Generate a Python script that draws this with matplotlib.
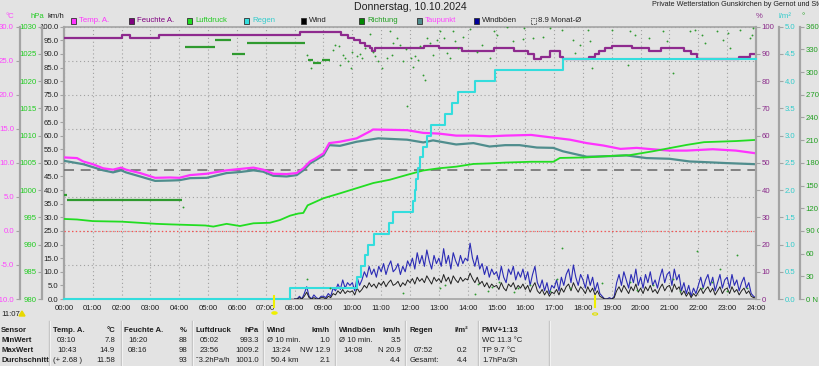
import numpy as np
import matplotlib
matplotlib.use("Agg")
import matplotlib.pyplot as plt
from matplotlib.ticker import MultipleLocator, FuncFormatter
from matplotlib.patches import Rectangle, Polygon, Circle
from matplotlib.lines import Line2D
import matplotlib.transforms as mtransforms

plt.rcParams['font.family'] = ['Liberation Sans', 'DejaVu Sans']

# --- data (hours since midnight) ---
t_temp = [0, 0.45, 0.67, 1.0, 1.36, 1.7, 1.98, 2.15, 2.64, 3.16, 3.68, 4.0, 4.37, 4.95,
          5.64, 6.1, 6.57, 6.91, 7.26, 7.72, 8.07, 8.3, 8.53, 8.7, 9.0, 9.2, 9.57, 10.15,
          10.6, 10.72, 11.9, 12.46, 13.0, 13.6, 14.2, 14.76, 15.3, 16.2, 16.97, 17.55,
          18.13, 18.7, 19.3, 19.86, 20.4, 21.0, 21.6, 22.5, 23.3, 24.0]
temp = [10.8, 10.7, 10.2, 9.8, 9.2, 9.0, 9.3, 9.0, 8.5, 7.8, 7.85, 7.8, 8.2, 8.4,
        8.9, 9.1, 9.3, 9.0, 8.4, 8.35, 8.5, 9.2, 10.2, 10.6, 11.4, 12.9, 13.1, 13.6,
        14.6, 14.9, 14.8, 14.4, 14.3, 14.0, 14.0, 13.9, 14.0, 14.1, 13.7, 13.4,
        12.9, 12.55, 12.05, 12.2, 12.0, 11.8, 11.8, 12.0, 11.8, 11.4]

t_dew = [0, 0.67, 1.36, 1.7, 1.98, 2.15, 2.64, 3.16, 3.68, 4.0, 4.37, 4.95, 5.64, 6.1,
         6.57, 6.91, 7.26, 7.72, 8.07, 8.3, 8.53, 9.0, 9.2, 9.57, 10.15, 10.9, 11.9,
         12.46, 12.8, 13.6, 14.2, 14.76, 15.3, 15.8, 16.4, 16.97, 17.3, 18.13, 19.05,
         19.5, 20.2, 21.0, 21.7, 22.0, 23.0, 24.0]
dew = [10.3, 9.8, 8.9, 8.6, 8.9, 8.6, 8.0, 7.35, 7.4, 7.45, 7.75, 7.8, 8.5, 8.65,
       8.9, 8.7, 8.1, 8.0, 8.2, 8.9, 9.9, 11.1, 12.6, 12.5, 13.1, 13.6, 13.4,
       13.0, 13.3, 12.7, 12.9, 12.4, 12.6, 12.6, 12.25, 12.2, 11.7, 10.9, 11.0,
       11.1, 10.7, 10.6, 10.2, 10.15, 9.96, 9.8]

t_press = [0, 0.45, 1.0, 2.0, 2.6, 3.2, 3.7, 4.3, 4.9, 5.18, 5.64, 6.1, 6.57, 7.14, 7.49,
           7.84, 8.13, 8.3, 8.45, 9.0, 9.57, 10.15, 10.73, 11.3, 11.9, 12.46, 13.0, 13.6,
           14.2, 14.76, 15.3, 16.2, 16.97, 17.2, 18.13, 19.05, 19.6, 20.4, 21.0, 21.6,
           22.2, 22.76, 23.3, 23.95, 24.0]
press = [994.7, 994.6, 994.3, 994.2, 994.0, 993.8, 993.7, 993.6, 993.5, 993.3, 993.8,
         993.4, 993.9, 994.0, 994.5, 995.3, 995.7, 995.8, 997.2, 998.5, 999.4, 1000.35,
         1001.3, 1001.9, 1002.8, 1003.6, 1004.0, 1004.3, 1004.8, 1004.9, 1005.05, 1005.2,
         1005.2, 1005.9, 1006.0, 1006.3, 1006.4, 1007.1, 1007.7, 1008.3, 1008.8, 1008.9,
         1009.0, 1009.2, 1009.2]

t_hum = [0, 2.0, 2.3, 3.3, 8.2, 9.6, 9.85, 10.05, 10.25, 10.45, 10.6, 10.68, 10.8, 12.5,
         13.0, 13.8, 14.9, 15.6, 16.1, 16.3, 16.55, 16.85, 17.2, 17.3, 18.2, 18.4, 18.55,
         18.75, 19.0, 19.2, 19.7, 20.3, 20.7, 21.5, 21.75, 21.95, 23.4, 23.8, 24.0]
hum = [96, 97, 96, 97, 98, 97, 96, 95, 94, 93, 92, 91, 92, 93,
       92, 91, 92, 91, 90, 88, 89, 91, 89, 88, 89, 90, 91,
       92, 93, 93, 92, 91, 92, 91, 90, 88, 89, 90, 90]

t_rain = [0, 7.85, 10.15, 10.3, 10.45, 10.55, 10.75, 11.28, 11.4, 12.1, 12.16, 12.22,
          12.28, 12.34, 12.44, 12.58, 12.72, 13.2, 13.45, 13.68, 14.26, 14.95, 17.3, 24.0]
rain = [0, 0.2, 0.4, 0.6, 0.8, 1.0, 1.2, 1.4, 1.6, 1.8, 2.0, 2.2,
        2.4, 2.6, 2.8, 3.0, 3.2, 3.4, 3.6, 3.8, 4.0, 4.2, 4.4, 4.4]

# wind and gusts, 5 min values from 08:00 (one row per hour)
wind_start = 8.0
gust = [0, 0, 1, 0, 2, 4.5, 1, 0, 1.5, 0.5, 0, 1,
        1, 0.5, 2, 1, 4, 3, 5.5, 3.5, 7, 4, 6, 5,
        6, 3, 8, 5, 7, 10, 8, 12, 9, 11, 8, 12,
        10, 13, 9, 12, 14, 10, 11, 13, 9, 12, 10, 14,
        12, 15, 11, 17, 13, 16, 12, 18, 14, 11, 16, 13,
        15, 12, 18.5, 13, 16, 11, 17, 14, 12, 16, 13, 15,
        14, 20.5, 15, 12, 16, 11, 13, 9, 12, 8, 11, 9,
        10, 7, 12, 8, 6, 11, 9, 12, 7, 10, 8, 11,
        7, 10, 5, 9, 12, 6, 4, 7, 3, 6, 2, 5,
        4, 7, 3, 8, 5, 9, 11, 6, 12.5, 8, 5, 9,
        7, 4, 9, 5, 8, 3, 6, 2, 1, 0, 0, 0.5,
        0, 1, 6, 9, 5, 10, 7, 4, 9, 6, 11, 5,
        8, 4, 9, 6, 10, 5, 7, 4, 8, 11, 6, 9,
        10, 5, 11, 7, 9, 3, 6, 2, 5, 1, 4, 2,
        5, 8, 4, 7, 9, 5, 8, 3, 6, 9, 4, 7,
        8, 4, 9, 5, 7, 3, 6, 8, 4, 6, 2, 1,
        0.5]
wind = [0, 0, 0.5, 0, 1, 2.5, 0.5, 0, 0.5, 0, 0, 0.5,
        0.5, 0, 1, 0.5, 2, 1.5, 3, 2, 3.5, 2, 3, 2.5,
        3, 1.5, 4, 2.5, 3.5, 5, 4, 6, 4.5, 5.5, 4, 6,
        5, 6.5, 4.5, 6, 7, 5, 5.5, 6.5, 4.5, 6, 5, 7,
        6, 7.5, 5.5, 8, 6.5, 7.5, 6, 8.5, 7, 5.5, 8, 6.5,
        7.5, 6, 9, 6.5, 8, 5.5, 8.5, 7, 6, 8, 6.5, 7.5,
        7, 9.5, 7.5, 6, 8, 5.5, 6.5, 4.5, 6, 4, 5.5, 4.5,
        5, 3.5, 6, 4, 3, 5.5, 4.5, 6, 3.5, 5, 4, 5.5,
        3.5, 5, 2.5, 4.5, 6, 3, 2, 3.5, 1.5, 3, 1, 2.5,
        2, 3.5, 1.5, 4, 2.5, 4.5, 5.5, 3, 6, 4, 2.5, 4.5,
        3.5, 2, 4.5, 2.5, 4, 1.5, 3, 1, 0.5, 0, 0, 0,
        0, 0.5, 3, 4.5, 2.5, 5, 3.5, 2, 4.5, 3, 5.5, 2.5,
        4, 2, 4.5, 3, 5, 2.5, 3.5, 2, 4, 5.5, 3, 4.5,
        5, 2.5, 5.5, 3.5, 4.5, 1.5, 3, 1, 2.5, 0.5, 2, 1,
        2.5, 4, 2, 3.5, 4.5, 2.5, 4, 1.5, 3, 4.5, 2, 3.5,
        4, 2, 4.5, 2.5, 3.5, 1.5, 3, 4, 2, 3, 1, 0.5,
        0.5]

# wind direction: steady runs and single readings (degrees)
dir_seg_start = [0.0, 0.12, 4.2, 5.24, 5.82, 6.33, 8.47, 8.65, 8.95]
dir_seg_end = [0.1, 4.1, 5.22, 5.8, 6.28, 8.36, 8.62, 8.92, 9.23]
dir_seg_val = [138, 131, 333, 342, 324, 339, 316, 312, 316]
dir_dot_t = [4.13, 8.44, 8.56, 9.34, 9.4, 9.55, 9.57, 9.69, 9.75, 9.86, 9.95, 10.0, 10.15,
             10.27, 10.33, 10.44, 10.6, 10.73, 10.8, 10.9, 11.02, 11.19, 11.31, 11.36,
             11.42, 11.54, 11.65, 11.77, 11.86, 11.89, 12.02, 12.1, 12.17, 12.29, 12.35,
             12.46, 12.52, 12.6, 12.69, 12.81, 12.93, 13.04, 13.18, 13.27, 13.39, 13.5,
             13.56, 13.68, 13.85, 14.08, 14.31, 14.49, 14.78, 14.91, 15.03, 15.35, 15.56,
             15.93, 15.95, 16.28, 16.63, 16.86, 17.26, 17.67, 17.72, 17.9, 18.19, 18.24,
             18.3, 19.0, 19.57, 19.63, 19.8, 20.3, 20.79, 20.9, 21.13, 21.71, 21.89, 22.12,
             22.23, 22.64, 22.87, 23.04, 23.1, 23.45, 23.8, 23.85, 23.91,
             8.42, 9.23, 11.76, 13.04, 13.2, 14.25, 14.35, 14.72, 14.85, 15.1, 15.6, 15.75,
             16.16, 16.86, 17.09, 17.26, 17.55, 18.65, 19.63, 19.86, 20.44, 21.13, 21.37,
             21.94, 22.12, 22.46, 22.75, 22.98, 23.33, 23.68]
dir_dot_val = [122, 322, 305, 329, 336, 335, 310, 322, 318, 314, 305, 327, 321,
               324, 318, 332, 351, 327, 321, 314, 305, 318, 354, 323,
               338, 345, 336, 314, 330, 255, 318, 307, 321, 316, 334,
               296, 290, 345, 338, 323, 343, 354, 345, 325, 318, 354,
               341, 332, 347, 357, 327, 336, 318, 354, 349, 360, 341,
               344, 358, 345, 347, 358, 356, 343, 325, 336, 356, 341,
               305, 356, 310, 354, 349, 345, 354, 341, 299, 354, 356, 349,
               338, 354, 343, 352, 332, 356, 345, 349, 358,
               26, 14, 8, 14, 18, 7, 20, 10, 16, 22, 9, 15,
               18, 10, 27, 67, 14, 21, 23, 12, 18, 27, 10,
               63, 14, 23, 40, 10, 58, 14]

month_avg = 8.9
sunrise, sunset = 7.30, 18.42

# --- figure ---
W, H = 820, 366
BG = '#e3e3e3'
fig = plt.figure(figsize=(W / 100, H / 100), dpi=100, facecolor=BG)


def fx(x):
    return x / W


def fy(y):
    return 1 - y / H


L, R, T, B = 64, 756, 26.7, 299
ax = fig.add_axes([fx(L), fy(B), (R - L) / W, (B - T) / H], facecolor=BG)

SP = '#a4a4a4'
FS = 5.6
GRID = dict(color='#a0a0a0', lw=0.8, ls=(0, (1, 2.5)))


def style_axis(a, side, pos, color, lo, hi, step, fmt):
    a.set_ylim(lo, hi)
    if side == 'left':
        a.yaxis.tick_left()
    else:
        a.yaxis.tick_right()
    if pos is not None:
        a.spines[side].set_position(('axes', pos))
    for s in ('top', 'bottom', 'left', 'right'):
        a.spines[s].set_visible(False)
    # axis line drawn by hand in plain grey
    xa = pos if pos is not None else (0 if side == 'left' else 1)
    a.add_artist(Line2D([xa, xa], [0, 1], transform=a.transAxes, color=SP, lw=1.6,
                        clip_on=False, zorder=5))
    a.yaxis.set_major_locator(MultipleLocator(step))
    a.yaxis.set_major_formatter(FuncFormatter(fmt))
    a.tick_params(axis='y', length=3, width=0.8, color=SP, labelsize=FS,
                  labelcolor=color, pad=1)


# km/h base axis
ax.set_xlim(0, 24)
style_axis(ax, 'left', None, '#202020', 0, 100, 5, lambda v, p: '%.1f' % v)
for s in ('top', 'bottom', 'right'):
    ax.spines[s].set_visible(True)
    ax.spines[s].set_edgecolor(SP)
    ax.spines[s].set_linewidth(1.2)
ax.set_xticks(range(25))
ax.set_xticklabels(['%02d:00' % h for h in range(25)])
ax.tick_params(axis='x', length=0, labelsize=FS, labelcolor='#202020', pad=4)
ax.yaxis.set_minor_locator(MultipleLocator(12.5))
ax.yaxis.remove_overlapping_locs = False
ax.tick_params(axis='y', which='minor', length=0)
ax.grid(axis='y', which='minor', **GRID)
ax.grid(axis='x', which='major', **GRID)

t_wind = wind_start + np.arange(len(gust)) / 12.0
ax.plot(t_wind, gust, color='#2b2bb5', lw=0.8, zorder=3)
ax.plot(t_wind, wind, color='#202020', lw=0.7, zorder=4)

# temperature axis (left, outer)
axT = ax.twinx()
style_axis(axT, 'left', -44.5 / 692, '#ff44ff', -10, 30, 5, lambda v, p: '%.1f' % v)
axT.axhline(0, color='#ff5050', lw=0.9, ls=(0, (1, 2)))
axT.axhline(month_avg, color='#707070', lw=1.2, ls=(0, (6, 4)))
axT.plot(t_dew, dew, color='#4f8d8d', lw=1.6)
axT.plot(t_temp, temp, color='#ff33ff', lw=1.6)

# pressure axis (left, middle)
axP = ax.twinx()
style_axis(axP, 'left', -22 / 692, '#22cc22', 980, 1030, 5, lambda v, p: '%d' % v)
axP.plot(t_press, press, color='#22dd22', lw=1.3)

# humidity axis (right)
axH = ax.twinx()
style_axis(axH, 'right', None, '#8a2a8a', 0, 100, 10, lambda v, p: '%d' % v)
axH.plot(t_hum, hum, color='#8e2a8e', lw=1.6, drawstyle='steps-post')

# rain axis (right, middle)
axR = ax.twinx()
style_axis(axR, 'right', 1 + 23 / 692, '#33cccc', 0, 5, 0.5, lambda v, p: '%.1f' % v)
axR.plot(t_rain, rain, color='#33dddd', lw=1.5, drawstyle='steps-post', clip_on=False)

# direction axis (right, outer)
dir_names = {360: ' N', 270: ' W', 180: ' S', 90: ' O', 0: ' N'}
axD = ax.twinx()
style_axis(axD, 'right', 1 + 44 / 692, '#22a022', 0, 360, 30,
           lambda v, p: '%d%s' % (v, dir_names.get(int(round(v)), '')))
axD.hlines(dir_seg_val, dir_seg_start, dir_seg_end, color='#2f9a2f', lw=1.6)
axD.scatter(dir_dot_t, dir_dot_val, s=1.8, color='#2f9a2f', lw=0, clip_on=True)

# sunrise / sunset marks below the axis
trans = mtransforms.blended_transform_factory(ax.transData, fig.transFigure)
for t_s in (sunrise, sunset):
    fig.add_artist(Line2D([t_s, t_s], [fy(296), fy(307)], transform=trans,
                          color='#f0f000', lw=1.5))
fig.add_artist(Circle((fx(L + sunrise * 692 / 24), fy(313)), 2.5 / W, color='#f0f000',
                      transform=fig.transFigure))
fig.add_artist(Circle((fx(L + sunset * 692 / 24), fy(314)), 2.5 / W, fill=False,
                      ec='#e0e000', lw=0.8, transform=fig.transFigure))
fig.text(fx(1), fy(314), '11:07', fontsize=FS, color='#202020', va='center')
fig.add_artist(Polygon([[fx(19), fy(316)], [fx(25), fy(316)], [fx(22), fy(311)]],
                       closed=True, color='#e8d800', transform=fig.transFigure))

# titles
fig.text(fx(410), fy(6.5), 'Donnerstag, 10.10.2024', fontsize=7.6, ha='center',
         va='center', color='#202020')
fig.text(fx(652), fy(5), 'Private Wetterstation Gunskirchen by Gernot und Stephan',
         fontsize=5.2, va='center', color='#202020')

# unit labels
for x, txt, c in [(10, '°C', '#ff44ff'), (37, 'hPa', '#22cc22'), (56, 'km/h', '#202020'),
                  (759, '%', '#8a2a8a'), (785, 'l/m²', '#33cccc'), (803, '°', '#22a022')]:
    fig.text(fx(x), fy(17), txt, fontsize=FS, ha='center', va='center', color=c)

# legend
legend_items = [
    (71, 'Temp. A.', '#ff33ff', '#ff33ff'),
    (129, 'Feuchte A.', '#800080', '#800080'),
    (187, 'Luftdruck', '#22dd22', '#22cc22'),
    (244, 'Regen', '#33dddd', '#33cccc'),
    (301, 'Wind', '#000000', '#202020'),
    (359, 'Richtung', '#008800', '#22a022'),
    (417, 'Taupunkt', '#4f8d8d', '#ff44ff'),
    (474, 'Windböen', '#000099', '#202020'),
]
for x, txt, box, tc in legend_items:
    fig.add_artist(Rectangle((fx(x), fy(23.5)), 5.5 / W, 5.5 / H, facecolor=box,
                             edgecolor='#303030', lw=0.6, transform=fig.transFigure))
    fig.text(fx(x + 8), fy(20.8), txt, fontsize=FS, va='center', color=tc)
fig.add_artist(Rectangle((fx(531), fy(23.5)), 5.5 / W, 5.5 / H, facecolor='none',
                         edgecolor='#505050', lw=0.6, ls=(0, (2, 1)),
                         transform=fig.transFigure))
fig.text(fx(538), fy(20.8), '8.9 Monat-Ø', fontsize=FS, va='center', color='#202020')

# summary table
row_y = [330.7, 340.3, 350, 360]
sep_x = [49, 121, 192, 263, 335, 405, 478, 549]
for x in sep_x:
    fig.add_artist(Line2D([fx(x), fx(x)], [fy(321), fy(366)], color='#c4c4c4', lw=1.0))
    fig.add_artist(Line2D([fx(x + 1), fx(x + 1)], [fy(321), fy(366)], color='#f2f2f2',
                          lw=0.8))

row_names = ['Sensor', 'MinWert', 'MaxWert', 'Durchschnitt']
for y, txt in zip(row_y, row_names):
    fig.text(fx(1), fy(y), txt, fontsize=FS, fontweight='bold', va='center',
             color='#202020')

table_cols = [
    (53, 115, 'Temp. A.', '°C', [('03:10', '7.8'), ('10:43', '14.9'), ('(+ 2.68 )', '11.58')]),
    (124, 187, 'Feuchte A.', '%', [('16:20', '88'), ('08:16', '98'), ('', '93')]),
    (196, 259, 'Luftdruck', 'hPa', [('05:02', '993.3'), ('23:56', '1009.2'),
                                    ('ˆ3.2hPa/h', '1001.0')]),
    (267, 330, 'Wind', 'km/h', [('Ø 10 min.', '1.0'), ('13:24', 'NW 12.9'),
                               ('50.4 km', '2.1')]),
    (339, 401, 'Windböen', 'km/h', [('Ø 10 min.', '3.5'), ('14:08', 'N 20.9'), ('', '4.4')]),
    (410, 468, 'Regen', 'l/m²', [('', ''), ('07:52', '0.2'), ('Gesamt:', '4.4')]),
]
for xl, xr, head, unit, rows in table_cols:
    fig.text(fx(xl), fy(row_y[0]), head, fontsize=FS, fontweight='bold', va='center',
             color='#202020')
    fig.text(fx(xr), fy(row_y[0]), unit, fontsize=FS, fontweight='bold', va='center',
             ha='right', color='#202020')
    for y, (left, right) in zip(row_y[1:], rows):
        indent = 0 if left.startswith(('Ø', '(', 'ˆ', 'G')) else 4
        fig.text(fx(xl + indent), fy(y), left, fontsize=FS, va='center', color='#202020')
        fig.text(fx(xr), fy(y), right, fontsize=FS, va='center', ha='right',
                 color='#202020')

pmv = ['PMV+1:13', 'WC 11.3 °C', 'TP 9.7 °C', '1.7hPa/3h']
for i, (y, txt) in enumerate(zip(row_y, pmv)):
    fig.text(fx(482), fy(y), txt, fontsize=FS, fontweight='bold' if i == 0 else 'normal',
             va='center', color='#202020')

fig.savefig('out.png', dpi=100, facecolor=BG)
